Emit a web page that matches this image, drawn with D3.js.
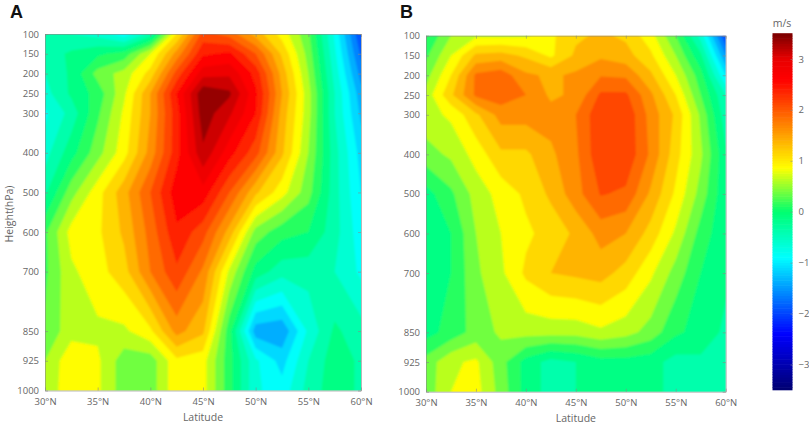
<!DOCTYPE html>
<html>
<head>
<meta charset="utf-8">
<script src="https://cdn.jsdelivr.net/npm/d3@7"></script>
<style>
  html, body { margin: 0; padding: 0; background: #fff; }
  text { font-family: "Open Sans", sans-serif; fill: #666; }
  .panel-label { font-family: "Liberation Sans", sans-serif; font-weight: bold; font-size: 18px; fill: #111; }
  .axis text { font-size: 9.5px; fill: #666; }
  .axis line, .axis path { stroke: #888; stroke-width: 0.6; }
  .title { font-size: 10.5px; }
</style>
</head>
<body>
<svg id="chart" width="809" height="426"></svg>
<script>
const latitudes = [30, 32.5, 35, 37.5, 40, 42.5, 45, 47.5, 50, 52.5, 55, 57.5, 60]
const levels = [100, 150, 200, 250, 300, 400, 500, 600, 700, 850, 925, 1000]
const latTicks = [30, 35, 40, 45, 50, 55, 60]
const barTicks = [-3, -2, -1, 0, 1, 2, 3]

// one row per level, one column per latitude (m/s)
const panelA = [
    [-0.4, -0.5, -0.6, -0.9, -0.4, 1.0, 2.1, 1.9, 1.4, 0.9, 0.3, -0.8, -2.0],
    [-0.4, -0.2, -0.05, 0.1, 0.75, 1.6, 2.45, 2.55, 2.0, 1.2, 0.4, -0.7, -1.8],
    [-0.5, -0.2, 0.35, 0.6, 1.1, 2.1, 2.9, 2.95, 2.4, 1.4, 0.5, -0.6, -1.6],
    [-0.6, -0.2, 0.1, 0.7, 1.5, 2.5, 3.45, 3.3, 2.55, 1.5, 0.6, -0.5, -1.4],
    [-0.8, -0.4, 0.2, 0.8, 1.5, 2.4, 3.4, 3.05, 2.5, 1.4, 0.6, -0.5, -1.3],
    [-0.6, -0.1, 0.4, 0.9, 1.6, 2.4, 3.2, 2.6, 2.1, 1.3, 0.5, -0.4, -1.1],
    [-0.3, 0.4, 0.9, 1.4, 2.0, 2.65, 2.65, 2.0, 1.3, 0.85, 0.35, -0.4, -1.0],
    [0.2, 0.85, 0.95, 1.3, 1.85, 2.45, 2.1, 1.4, 0.4, 0.1, 0.0, -0.4, -0.9],
    [0.2, 0.7, 0.9, 1.15, 1.75, 2.2, 1.7, 0.7, -0.1, -0.4, -0.4, -0.5, -0.8],
    [0.3, 0.65, 0.7, 0.7, 0.95, 1.6, 1.3, 0.1, -1.4, -1.45, -0.7, -0.2, -0.4],
    [0.5, 0.95, 0.8, 0.36, 0.36, 0.94, 0.85, 0.1, -0.7, -1.1, -0.5, -0.1, -0.3],
    [0.55, 0.95, 0.8, 0.36, 0.36, 0.94, 0.85, 0.1, -0.7, -0.9, -0.4, -0.1, -0.3]
]

const panelB = [
    [0.0, 0.5, 0.7, 0.7, 0.72, 0.95, 1.2, 1.3, 1.2, 0.85, 0.25, -0.6, -2.0],
    [0.2, 0.75, 1.3, 1.35, 1.2, 0.95, 1.3, 1.45, 1.35, 1.05, 0.5, -0.2, -1.5],
    [0.4, 1.0, 1.8, 1.9, 1.55, 1.45, 1.55, 1.73, 1.7, 1.3, 0.75, 0.1, -1.0],
    [0.6, 1.2, 1.8, 1.9, 1.75, 1.45, 1.55, 2.05, 2.05, 1.55, 1.0, 0.25, -0.5],
    [0.65, 0.8, 1.2, 1.6, 1.6, 1.6, 1.75, 2.2, 2.2, 1.65, 1.2, 0.45, -0.4],
    [0.4, 0.55, 0.85, 1.2, 1.2, 1.45, 1.7, 2.2, 2.2, 1.7, 1.1, 0.55, -0.2],
    [-0.1, 0.2, 0.6, 0.85, 1.05, 1.3, 1.65, 2.02, 1.95, 1.45, 0.95, 0.4, -0.2],
    [-0.2, 0.0, 0.5, 0.75, 0.95, 1.1, 1.3, 1.6, 1.5, 1.15, 0.7, 0.15, -0.2],
    [-0.2, 0.0, 0.45, 0.7, 1.05, 1.25, 1.3, 1.35, 1.15, 0.8, 0.4, 0.0, -0.2],
    [-0.1, 0.1, 0.35, 0.55, 0.6, 0.6, 0.6, 0.7, 0.6, 0.4, 0.05, -0.1, -0.3],
    [0.35, 0.7, 0.8, 0.35, -0.1, -0.35, -0.25, -0.1, -0.1, -0.15, -0.35, -0.3, -0.4],
    [0.35, 0.75, 0.85, 0.4, -0.1, -0.35, -0.25, -0.1, -0.1, -0.15, -0.35, -0.3, -0.4]
]

const colorStops = [-3.5, -2.4, -0.9, 0, 0.86, 2.6, 3.0, 3.5]
const colorValues = ["#000070", "#0000ff", "#00ffff", "#00ff70", "#ffff00", "#ff0000", "#e80000", "#7a0000"]

const color = d3.scaleLinear().domain(colorStops).range(colorValues)
const thresholds = d3.range(-3.5, 3.5, 0.25)

const svg = d3.select("#chart")

const defs = svg.append("defs")
defs.append("filter").attr("id", "soft")
    .attr("x", "-5%").attr("y", "-5%").attr("width", "110%").attr("height", "110%")
    .append("feGaussianBlur").attr("stdDeviation", 0.8)

function drawPanel(id, label, labelX, values, left, right, top, bottom) {

    const x = d3.scaleLinear().domain([30, 60]).range([left, right])
    const y = d3.scaleLinear().domain([100, 1000]).range([top, bottom])

    // d3.contours puts sample i at i + 0.5, these two scales undo that
    const gridX = d3.scaleLinear().domain(latitudes.map((d, i) => i + 0.5)).range(latitudes.map(x))
    const gridY = d3.scaleLinear().domain(levels.map((d, i) => i + 0.5)).range(levels.map(y))

    const path = d3.geoPath(d3.geoTransform({
        point(px, py) { this.stream.point(gridX(px), gridY(py)) }
    }))

    const contours = d3.contours()
        .size([latitudes.length, levels.length])
        .thresholds(thresholds)(values.flat())

    defs.append("clipPath").attr("id", `clip-${id}`)
        .append("rect")
        .attr("x", left).attr("y", top)
        .attr("width", right - left).attr("height", bottom - top)

    const g = svg.append("g").attr("clip-path", `url(#clip-${id})`)
        .append("g").attr("filter", "url(#soft)")

    g.selectAll("path")
        .data(contours)
        .enter()
        .append("path")
        .attr("d", path)
        .attr("fill", d => color(d.value + 0.125))

    // axes on all four sides, ticks point inward
    svg.append("g").attr("class", "axis")
        .attr("transform", `translate(0,${bottom})`)
        .call(d3.axisBottom(x).tickValues(latTicks).tickFormat(d => `${d}°N`).tickSizeInner(-3).tickSizeOuter(0).tickPadding(8))
    svg.append("g").attr("class", "axis")
        .attr("transform", `translate(0,${top})`)
        .call(d3.axisTop(x).tickValues(latTicks).tickFormat("").tickSizeInner(-3).tickSizeOuter(0))
    svg.append("g").attr("class", "axis")
        .attr("transform", `translate(${left},0)`)
        .call(d3.axisLeft(y).tickValues(levels).tickFormat(d3.format("d")).tickSizeInner(-3).tickSizeOuter(0).tickPadding(6))
    svg.append("g").attr("class", "axis")
        .attr("transform", `translate(${right},0)`)
        .call(d3.axisRight(y).tickValues(levels).tickFormat("").tickSizeInner(-3).tickSizeOuter(0))

    svg.append("text").attr("class", "title")
        .attr("x", (left + right) / 2).attr("y", bottom + 30.5)
        .attr("text-anchor", "middle")
        .text("Latitude")

    svg.append("text").attr("class", "panel-label")
        .attr("x", labelX).attr("y", 17.5)
        .text(label)
}

drawPanel("a", "A", 10, panelA, 45, 361, 34, 390.5)
drawPanel("b", "B", 400, panelB, 426, 725.7, 35.7, 391.7)

svg.append("text").attr("class", "title")
    .attr("transform", "translate(13,214) rotate(-90)")
    .attr("text-anchor", "middle")
    .text("Height(hPa)")

// colour bar
const barY = d3.scaleLinear().domain([-3.5, 3.5]).range([390, 33.5])
const barStep = 0.05

svg.append("g")
    .selectAll("rect")
    .data(d3.range(-3.5, 3.5, barStep))
    .enter()
    .append("rect")
    .attr("x", 772.5)
    .attr("width", 20)
    .attr("y", d => barY(d + barStep) - 0.3)
    .attr("height", d => barY(d) - barY(d + barStep) + 0.6)
    .attr("fill", d => color(d + barStep / 2))

svg.append("g").attr("class", "axis")
    .attr("transform", "translate(792.5,0)")
    .call(d3.axisRight(barY).tickValues(barTicks).tickFormat(d3.format("d")).tickSizeInner(-2).tickSizeOuter(0).tickPadding(6))
    .call(g => g.select(".domain").remove())

svg.append("text").attr("class", "title")
    .attr("x", 782).attr("y", 27)
    .attr("text-anchor", "middle")
    .text("m/s")
</script>
</body>
</html>
